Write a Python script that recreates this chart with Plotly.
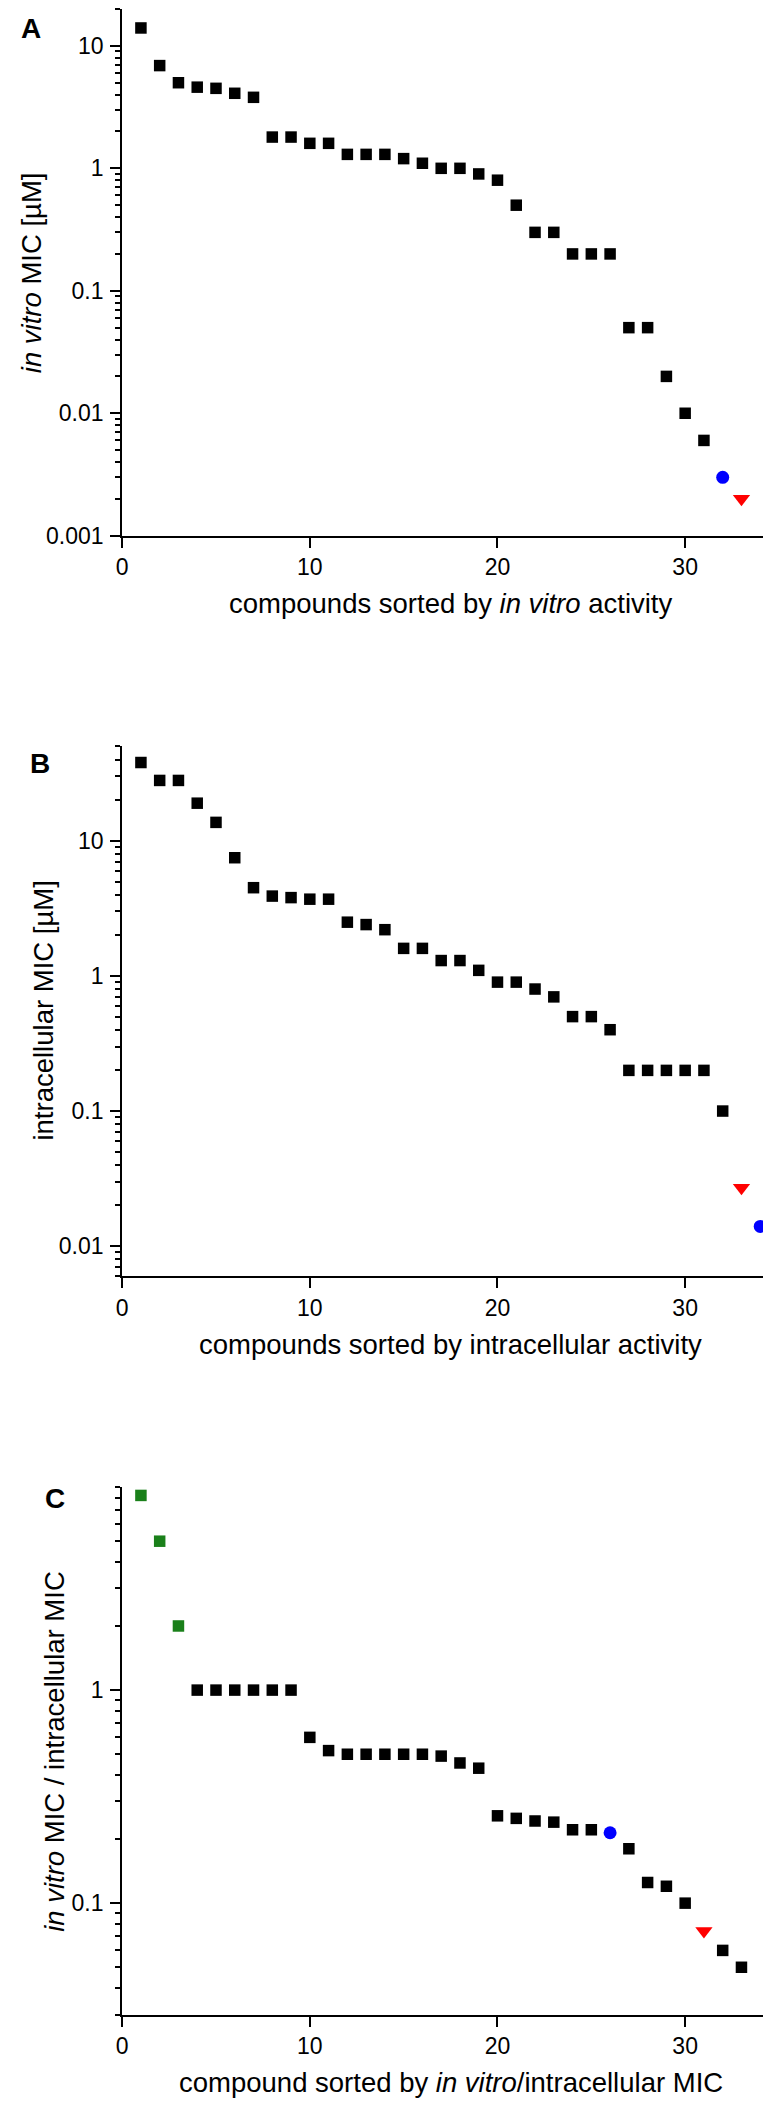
import math
import plotly.graph_objects as go

W, H = 771, 2106
FONT = "Liberation Sans, Arial, sans-serif"

# ---------------- data ----------------
# Panel A: in vitro MIC sorted
a_sq_x = list(range(1, 32))
a_sq_y = [14, 6.9, 5.0, 4.6, 4.5, 4.1, 3.8, 1.8, 1.8, 1.6, 1.6, 1.3, 1.3, 1.3, 1.2,
          1.1, 1.0, 1.0, 0.9, 0.8, 0.5, 0.3, 0.3, 0.2, 0.2, 0.2, 0.05, 0.05, 0.02,
          0.01, 0.006]
a_blue_x, a_blue_y = [32], [0.003]
a_red_x, a_red_y = [33], [0.002]

# Panel B: intracellular MIC sorted
b_sq_x = list(range(1, 33))
b_sq_y = [38, 28, 28, 19, 13.7, 7.5, 4.5, 3.9, 3.8, 3.7, 3.7, 2.5, 2.4, 2.2, 1.6,
          1.6, 1.3, 1.3, 1.1, 0.9, 0.9, 0.8, 0.7, 0.5, 0.5, 0.4, 0.2, 0.2, 0.2,
          0.2, 0.2, 0.1]
b_red_x, b_red_y = [33], [0.027]
b_blue_x, b_blue_y = [34], [0.014]

# Panel C: ratio in vitro / intracellular
c_green_x, c_green_y = [1, 2, 3], [8.2, 5.0, 2.0]
c_sq_x = list(range(4, 26)) + [27, 28, 29, 30, 32, 33]
c_sq_y = [1, 1, 1, 1, 1, 1, 0.6, 0.52, 0.5, 0.5, 0.5, 0.5, 0.5, 0.49, 0.455, 0.43,
          0.257, 0.25, 0.243, 0.24, 0.221, 0.221,
          0.18, 0.125, 0.12, 0.1, 0.06, 0.05]
c_blue_x, c_blue_y = [26], [0.214]
c_red_x, c_red_y = [31], [0.074]

x_ticks = [0, 10, 20, 30]
x_ticktext = ["0", "10", "20", "30"]
a_yticks = [0.001, 0.01, 0.1, 1, 10]
a_yticktext = ["0.001", "0.01", "0.1", "1", "10"]
b_yticks = [0.01, 0.1, 1, 10]
b_yticktext = ["0.01", "0.1", "1", "10"]
c_yticks = [0.1, 1]
c_yticktext = ["0.1", "1"]

a_title_x = "compounds sorted by <i>in vitro</i> activity"
a_title_y = "<i>in vitro</i> MIC [µM]"
b_title_x = "compounds sorted by intracellular activity"
b_title_y = "intracellular MIC [µM]"
c_title_x = "compound sorted by <i>in vitro</i>/intracellular MIC"
c_title_y = "<i>in vitro</i> MIC / intracellular MIC"

BLACK = "#000000"
GREEN = "#1a801a"
BLUE = "#0000ff"
RED = "#ff0000"

# ---------------- layout geometry (pixels) ----------------
AX_LEFT = 109
panels = {
    "A": dict(top=1, bottom=531, yr=(0.001, 20)),
    "B": dict(top=743, bottom=1276, yr=(0.006, 50)),
    "C": dict(top=1488, bottom=2019, yr=(0.03, 9)),
}
TICK_FS = 23
TITLE_FS = 27.5


def py(p):
    return 1 - p / H


def px(p):
    return p / W


fig = go.Figure()


def sq(x, y, color, xa, ya):
    fig.add_trace(go.Scatter(x=x, y=y, mode="markers", xaxis=xa, yaxis=ya,
                             marker=dict(symbol="square", size=11.5, color=color,
                                         line=dict(width=0)),
                             cliponaxis=False, showlegend=False, hoverinfo="skip"))


def circ(x, y, xa, ya):
    fig.add_trace(go.Scatter(x=x, y=y, mode="markers", xaxis=xa, yaxis=ya,
                             marker=dict(symbol="circle", size=13, color=BLUE,
                                         line=dict(width=0)),
                             cliponaxis=False, showlegend=False, hoverinfo="skip"))


def tri(x, y, xa, ya):
    fig.add_trace(go.Scatter(x=x, y=y, mode="markers", xaxis=xa, yaxis=ya,
                             marker=dict(symbol="triangle-down", size=15, color=RED,
                                         line=dict(width=0)),
                             cliponaxis=False, showlegend=False, hoverinfo="skip"))


sq(a_sq_x, a_sq_y, BLACK, "x", "y")
circ(a_blue_x, a_blue_y, "x", "y")
tri(a_red_x, a_red_y, "x", "y")

sq(b_sq_x, b_sq_y, BLACK, "x2", "y2")
tri(b_red_x, b_red_y, "x2", "y2")
circ(b_blue_x, b_blue_y, "x2", "y2")

sq(c_green_x, c_green_y, GREEN, "x3", "y3")
sq(c_sq_x, c_sq_y, BLACK, "x3", "y3")
circ(c_blue_x, c_blue_y, "x3", "y3")
tri(c_red_x, c_red_y, "x3", "y3")


def minor_vals(lo, hi):
    vals = []
    for e in range(-5, 3):
        for m in range(2, 10):
            v = m * 10 ** e
            if lo * 0.999 <= v <= hi * 1.001:
                vals.append(v)
    return vals


def xaxis_cfg(anchor):
    return dict(domain=[px(AX_LEFT), 1.0], range=[0, 35], anchor=anchor,
                showline=True, linecolor="black", linewidth=2, mirror=False,
                ticks="outside", ticklen=10, tickwidth=2, tickcolor="black",
                tickmode="array", tickvals=x_ticks, ticktext=x_ticktext,
                tickfont=dict(family=FONT, size=TICK_FS, color="black"),
                showgrid=False, zeroline=False, fixedrange=True)


def yaxis_cfg(anchor, p, tv, tt):
    lo, hi = p["yr"]
    return dict(type="log", domain=[py(p["bottom"]), py(p["top"])],
                range=[math.log10(lo), math.log10(hi)], anchor=anchor,
                showline=True, linecolor="black", linewidth=2,
                ticks="outside", ticklen=10, tickwidth=2, tickcolor="black",
                tickmode="array", tickvals=tv, ticktext=tt,
                ticklabelstandoff=2,
                tickfont=dict(family=FONT, size=TICK_FS, color="black"),
                minor=dict(tickmode="array", tickvals=minor_vals(lo, hi),
                           ticks="outside", ticklen=5, tickwidth=1.5,
                           tickcolor="black", showgrid=False),
                showgrid=False, zeroline=False, fixedrange=True)


fig.update_layout(
    width=W, height=H, margin=dict(l=0, r=0, t=0, b=0),
    paper_bgcolor="white", plot_bgcolor="white", showlegend=False,
    font=dict(family=FONT, color="black"),
    xaxis=xaxis_cfg("y"),
    yaxis=yaxis_cfg("x", panels["A"], a_yticks, a_yticktext),
    xaxis2=xaxis_cfg("y2"),
    yaxis2=yaxis_cfg("x2", panels["B"], b_yticks, b_yticktext),
    xaxis3=xaxis_cfg("y3"),
    yaxis3=yaxis_cfg("x3", panels["C"], c_yticks, c_yticktext),
)

ann = []


def text(x, y, t, size=TITLE_FS, angle=0, bold=False):
    ann.append(dict(x=px(x), y=py(y), xref="paper", yref="paper", text=t,
                    showarrow=False, textangle=angle, xanchor="center",
                    yanchor="middle",
                    font=dict(family=FONT, size=size, color="black",
                              weight="bold" if bold else "normal")))


cx = (AX_LEFT + W) / 2
text(cx, 599, a_title_x)
text(cx, 1345, b_title_x)
text(cx, 2087, c_title_x)
text(17, 266, a_title_y, angle=-90)
text(30, 1009, b_title_y, angle=-90)
text(40, 1754, c_title_y, angle=-90)
text(17, 21, "A", size=28, bold=True)
text(26, 760, "B", size=28, bold=True)
text(41, 1500, "C", size=28, bold=True)

fig.update_layout(annotations=ann)

fig.write_html("out.html", include_plotlyjs=True, config={"displayModeBar": False})
